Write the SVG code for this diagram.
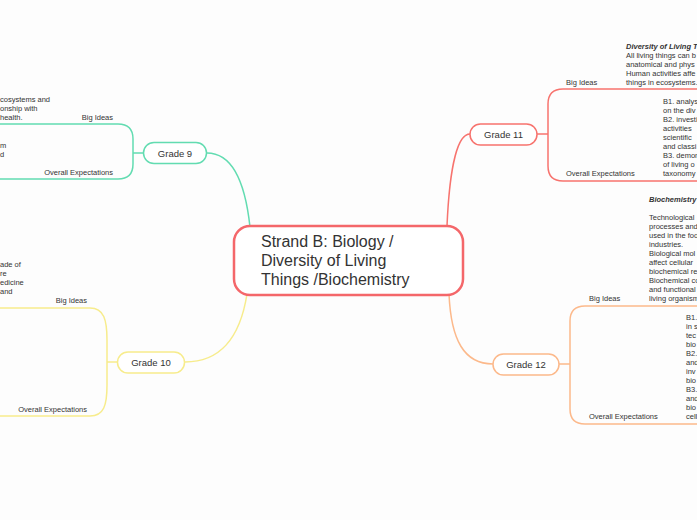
<svg xmlns="http://www.w3.org/2000/svg" width="697" height="520" viewBox="0 0 697 520">
<style>
.t{font-family:"Liberation Sans",Arial,sans-serif;font-size:7.5px;fill:#333}
.b{font-weight:bold;font-style:italic}
.r{text-anchor:end}
.n{font-family:"Liberation Sans",Arial,sans-serif;font-size:9.5px;fill:#333;text-anchor:middle}
.c{font-family:"Liberation Sans",Arial,sans-serif;font-size:16px;fill:#333}
.box{fill:#fff;stroke-width:1.5}
.ln{fill:none;stroke-width:1.5}
.red{stroke:#f7736e}.teal{stroke:#62dcb1}.yel{stroke:#f7ec8c}.org{stroke:#fcb98b}
</style>
<rect width="697" height="520" fill="#fdfdfd"/>
<g id="connectors">
<path class="ln teal" d="M207,153 C236,153 246,190 250,227"/>
<path class="ln yel" d="M185,362 C225,362 241,332 247,294"/>
<path class="ln red" d="M470,134 C455,134 449,180 447,226"/>
<path class="ln org" d="M493,364 C464,364 451,340 449,294"/>
<path class="ln teal" d="M143,153 H133 M0,124 H118 Q133,124 133,139 V164 Q133,179 118,179 H0"/>
<path class="ln yel" d="M117,362 H107 M0,308 H90 C104,308 107,320 107,340 V385 C107,405 104,416 90,416 H0"/>
<path class="ln red" d="M537,134 H548 M697,89 H563 Q548,89 548,104 V166 Q548,181 563,181 H697"/>
<path class="ln org" d="M559,364 H570 M697,306 H585 Q570,306 570,321 V409 Q570,424 585,424 H697"/>
</g>
<g id="central">
<rect x="234" y="226" width="229" height="69" rx="16" fill="#fff" stroke="#f4676a" stroke-width="2.5"/>
<text class="c" x="261" y="247">Strand B: Biology /</text>
<text class="c" x="261" y="266">Diversity of Living</text>
<text class="c" x="261" y="285">Things /Biochemistry</text>
</g>
<g id="grade9">
<rect class="box teal" x="143.5" y="142.5" width="63" height="21" rx="10.5"/>
<text class="n" x="175" y="156.5">Grade 9</text>
<text class="t" x="0" y="102">cosystems and</text>
<text class="t" x="0" y="111">onship with</text>
<text class="t" x="0" y="120">health.</text>
<text class="t r" x="113" y="120">Big Ideas</text>
<text class="t" x="0" y="148">m</text>
<text class="t" x="0" y="157">d</text>
<text class="t r" x="113" y="175">Overall Expectations</text>
</g>
<g id="grade10">
<rect class="box yel" x="117.5" y="352" width="67" height="21" rx="10.5"/>
<text class="n" x="151" y="366">Grade 10</text>
<text class="t" x="0" y="267">ade of</text>
<text class="t" x="0" y="276">re</text>
<text class="t" x="0" y="285">edicine</text>
<text class="t" x="0" y="294">and</text>
<text class="t r" x="87" y="303">Big Ideas</text>
<text class="t r" x="87" y="412">Overall Expectations</text>
</g>
<g id="grade11">
<rect class="box red" x="470" y="124" width="67" height="21" rx="10.5"/>
<text class="n" x="503.5" y="138">Grade 11</text>
<text class="t b" x="626" y="49">Diversity of Living Th</text>
<text class="t" x="626" y="58">All living things can b</text>
<text class="t" x="626" y="67">anatomical and phys</text>
<text class="t" x="626" y="76">Human activities affe</text>
<text class="t" x="626" y="85">things in ecosystems.</text>
<text class="t" x="566" y="85">Big Ideas</text>
<text class="t" x="663" y="104">B1. analys</text>
<text class="t" x="663" y="113">on the div</text>
<text class="t" x="663" y="122">B2. investi</text>
<text class="t" x="663" y="131">activities</text>
<text class="t" x="663" y="140">scientific</text>
<text class="t" x="663" y="149">and classi</text>
<text class="t" x="663" y="158">B3. demon</text>
<text class="t" x="663" y="167">of living o</text>
<text class="t" x="663" y="176">taxonomy</text>
<text class="t" x="566" y="176">Overall Expectations</text>
</g>
<g id="grade12">
<rect class="box org" x="493" y="354" width="66" height="21" rx="10.5"/>
<text class="n" x="526" y="368">Grade 12</text>
<text class="t b" x="649" y="202">Biochemistry</text>
<text class="t" x="649" y="220">Technological</text>
<text class="t" x="649" y="229">processes and</text>
<text class="t" x="649" y="238">used in the foo</text>
<text class="t" x="649" y="247">industries.</text>
<text class="t" x="649" y="256">Biological mol</text>
<text class="t" x="649" y="265">affect cellular</text>
<text class="t" x="649" y="274">biochemical re</text>
<text class="t" x="649" y="283">Biochemical co</text>
<text class="t" x="649" y="292">and functional</text>
<text class="t" x="649" y="301">living organism</text>
<text class="t" x="589" y="301">Big Ideas</text>
<text class="t" x="686" y="320">B1.</text>
<text class="t" x="686" y="329">in s</text>
<text class="t" x="686" y="338">tec</text>
<text class="t" x="686" y="347">bio</text>
<text class="t" x="686" y="356">B2.</text>
<text class="t" x="686" y="365">and</text>
<text class="t" x="686" y="374">inv</text>
<text class="t" x="686" y="383">bio</text>
<text class="t" x="686" y="392">B3.</text>
<text class="t" x="686" y="401">and</text>
<text class="t" x="686" y="410">bio</text>
<text class="t" x="686" y="419">cell</text>
<text class="t" x="589" y="419">Overall Expectations</text>
</g>
</svg>
